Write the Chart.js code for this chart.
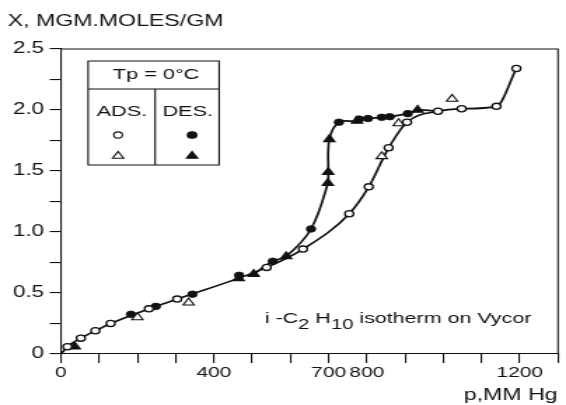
<!DOCTYPE html>
<html lang="en">
<head>
<meta charset="UTF-8">
<title>i-C2H10 isotherm on Vycor</title>
<script src="https://cdn.jsdelivr.net/npm/chart.js"></script>
<style>
  html, body { margin: 0; padding: 0; background: #fff; overflow: hidden; }
  /* the original figure is stretched sideways: draw it narrow, then widen it */
  .wrap { width: 404px; height: 405px; transform: scaleX(1.401); transform-origin: 0 0; }
</style>
</head>
<body>
<div class="wrap"><canvas id="iso"></canvas></div>
<script>
// pressure (mm Hg) and uptake (mgm.moles/gm)
const origin = [0, 0];

// adsorption, open circles
const adsCircleX = [17, 52, 90, 130, 230, 304, 538, 633, 754, 805, 857, 905, 986, 1048, 1139, 1191];
const adsCircleY = [0.06, 0.13, 0.19, 0.25, 0.37, 0.45, 0.71, 0.86, 1.15, 1.37, 1.69, 1.90, 1.99, 2.01, 2.03, 2.34];

// adsorption, open triangles
const adsTriX = [200, 334, 839, 883, 1023];
const adsTriY = [0.30, 0.42, 1.62, 1.89, 2.09];

// desorption, filled circles
const desCircleX = [183, 248, 344, 466, 554, 654, 727, 780, 803, 839, 860, 907];
const desCircleY = [0.325, 0.39, 0.49, 0.645, 0.76, 1.025, 1.90, 1.925, 1.93, 1.94, 1.945, 1.97];

// desorption, filled triangles
const desTriX = [36, 465, 504, 589, 698, 699, 702, 774, 933];
const desTriY = [0.06, 0.62, 0.655, 0.80, 1.40, 1.49, 1.76, 1.91, 2.00];

const xLabels = [0, 400, 700, 800, 1200];
const yLabels = [0, 0.5, 1.0, 1.5, 2.0, 2.5];

const ink = '#111';
const fontFamily = '"Liberation Sans", Arial, Helvetica, sans-serif';

function pts(xs, ys) {
  return xs.map((x, i) => ({ x: x, y: ys[i] }));
}

const adsPts = pts(adsCircleX, adsCircleY);
const adsLine = [{ x: origin[0], y: origin[1] }].concat(adsPts);

// desorption branch: leaves the adsorption curve near 500 and rejoins it on the plateau
const desLine = pts(desCircleX, desCircleY).concat(pts(desTriX, desTriY))
  .filter(p => p.x >= 500)
  .sort((a, b) => a.y - b.y);
desLine.push(adsPts.find(p => p.x > desLine[desLine.length - 1].x));

const circleOpen = { pointStyle: 'circle', radius: 3.1, borderWidth: 1.3, rotation: 0 };
const circleFull = { pointStyle: 'circle', radius: 3.3, borderWidth: 0.8, rotation: 0 };
const triStyle = { pointStyle: 'triangle', radius: 4.6, borderWidth: 1.1, rotation: 0 };

const extras = {
  id: 'extras',
  afterDraw(chart) {
    const ctx = chart.ctx;
    const a = chart.chartArea;
    ctx.save();
    ctx.strokeStyle = ink;
    ctx.fillStyle = ink;
    ctx.lineWidth = 1.1;

    // frame top and right
    ctx.beginPath();
    ctx.moveTo(a.left, a.top);
    ctx.lineTo(a.right, a.top);
    ctx.lineTo(a.right, a.bottom);
    ctx.stroke();

    ctx.font = '16.5px ' + fontFamily;
    ctx.textBaseline = 'alphabetic';
    ctx.textAlign = 'left';
    ctx.fillText('X, MGM.MOLES/GM', 5.5, 26);
    ctx.textAlign = 'right';
    ctx.fillText('p,MM Hg', 398, 400);

    // Tp table
    const bx = 62.9, by = 61, bw = 93.5, bh = 104, midY = 89, midX = 110.7;
    ctx.beginPath();
    ctx.rect(bx, by, bw, bh);
    ctx.moveTo(bx, midY);
    ctx.lineTo(bx + bw, midY);
    ctx.moveTo(midX, midY);
    ctx.lineTo(midX, by + bh);
    ctx.stroke();
    ctx.font = '15.5px ' + fontFamily;
    ctx.textAlign = 'center';
    ctx.fillText('Tp = 0°C', 111.4, 79);
    ctx.fillText('ADS.', 87, 116);
    ctx.fillText('DES.', 134, 116);

    const H = Chart.helpers;
    ctx.fillStyle = '#fff';
    H.drawPoint(ctx, circleOpen, 84.3, 135);
    H.drawPoint(ctx, triStyle, 84.3, 156);
    ctx.fillStyle = ink;
    H.drawPoint(ctx, circleFull, 137.1, 135);
    H.drawPoint(ctx, triStyle, 137.1, 156);

    // i-C2H10 caption with subscripts
    const parts = [['i -C', 0], ['2', 6], [' H', 0], ['10', 6], [' isotherm on Vycor', 0]];
    let x = 189;
    ctx.textAlign = 'left';
    ctx.fillStyle = ink;
    parts.forEach(([t, dy]) => {
      ctx.font = (dy ? '14.5px ' : '15.3px ') + fontFamily;
      ctx.fillText(t, x, 323 + dy);
      x += ctx.measureText(t).width;
    });
    ctx.restore();
  }
};

new Chart(document.getElementById('iso'), {
  type: 'scatter',
  data: {
    datasets: [
      {
        label: 'ADS. circles', data: adsPts,
        pointStyle: 'circle', pointRadius: circleOpen.radius, pointBorderWidth: circleOpen.borderWidth,
        pointBackgroundColor: '#fff', pointBorderColor: ink
      },
      {
        label: 'ADS. triangles', data: pts(adsTriX, adsTriY),
        pointStyle: 'triangle', pointRadius: triStyle.radius, pointBorderWidth: triStyle.borderWidth,
        pointBackgroundColor: '#fff', pointBorderColor: ink
      },
      {
        label: 'DES. circles', data: pts(desCircleX, desCircleY),
        pointStyle: 'circle', pointRadius: circleFull.radius, pointBorderWidth: circleFull.borderWidth,
        pointBackgroundColor: ink, pointBorderColor: ink
      },
      {
        label: 'DES. triangles', data: pts(desTriX, desTriY),
        pointStyle: 'triangle', pointRadius: triStyle.radius, pointBorderWidth: triStyle.borderWidth,
        pointBackgroundColor: ink, pointBorderColor: ink
      },
      {
        label: 'adsorption', data: adsLine, showLine: true, pointRadius: 0,
        borderColor: ink, borderWidth: 1.7, cubicInterpolationMode: 'monotone'
      },
      {
        label: 'desorption', data: desLine, showLine: true, pointRadius: 0,
        borderColor: ink, borderWidth: 1.7, tension: 0.35
      }
    ]
  },
  options: {
    responsive: true,
    maintainAspectRatio: false,
    animation: false,
    devicePixelRatio: 1,
    layout: { padding: { top: 49, right: 5, left: 0, bottom: 0 } },
    plugins: { legend: { display: false }, tooltip: { enabled: false } },
    scales: {
      x: {
        type: 'linear', min: 0, max: 1300,
        afterFit: s => { s.height = 51; },
        ticks: {
          stepSize: 100, autoSkip: false, maxRotation: 0, padding: 1,
          color: ink, font: { family: fontFamily, size: 15 },
          callback: v => xLabels.includes(v) ? String(v) : ''
        },
        grid: { drawOnChartArea: false, tickLength: 9, color: ink, lineWidth: 1.1 },
        border: { color: ink, width: 1.1 }
      },
      y: {
        min: 0, max: 2.5,
        afterFit: s => { s.width = 43.5; },
        ticks: {
          stepSize: 0.25, padding: 4, color: ink, font: { family: fontFamily, size: 16 },
          callback: v => yLabels.includes(v) ? (v === 0 ? '0' : v.toFixed(1)) : ''
        },
        grid: { drawOnChartArea: false, tickLength: 8, color: ink, lineWidth: 1.1 },
        border: { color: ink, width: 1.1 }
      }
    }
  },
  plugins: [extras]
});
</script>
</body>
</html>
